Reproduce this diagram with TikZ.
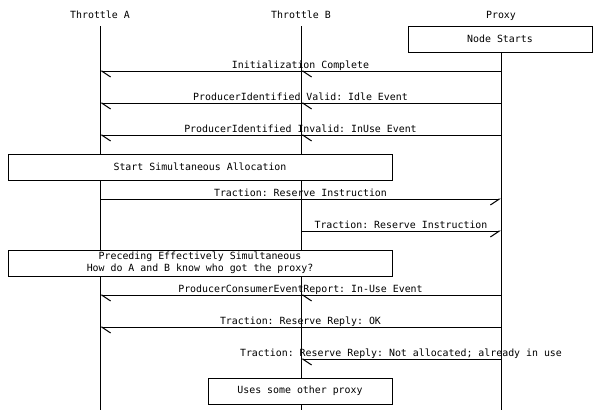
\documentclass[tikz,border=0pt]{standalone}
\usepackage{fontspec}
\setmonofont{DejaVu Sans Mono}
\usetikzlibrary{arrows.meta}
\tikzset{
  txt/.style={font=\ttfamily\fontsize{9.9}{12.5}\selectfont, inner sep=0pt},
  life/.style={line width=1pt},
  notebox/.style={txt, draw, fill=white, line width=1pt, minimum height=26pt, align=center},
  lmsg/.style={line width=1pt, -{Straight Barb[harpoon, length=9pt, width=12pt]}},
  rmsg/.style={line width=1pt, -{Straight Barb[harpoon, swap, length=9pt, width=12pt]}},
  mlbl/.style={txt, midway, anchor=base, yshift=2.5pt}
}
\begin{document}
\begin{tikzpicture}[x=1pt, y=-1pt]
\useasboundingbox (0,0) rectangle (600,410);
% heads
\node[txt, anchor=base] (A) at (100,18) {Throttle A};
\node[txt, anchor=base] (B) at (301,18) {Throttle B};
\node[txt, anchor=base] (P) at (501,18) {Proxy};
% rows
\coordinate (top) at (0,26);
\coordinate (bot) at (0,410);
\coordinate (r1) at (0,71);
\coordinate (r2) at (0,103);
\coordinate (r3) at (0,135);
\coordinate (r4) at (0,199);
\coordinate (r5) at (0,231);
\coordinate (r6) at (0,295);
\coordinate (r7) at (0,327);
\coordinate (r8) at (0,359);
% boxes
\node[notebox, minimum width=184pt] (ns) at (500,39) {Node Starts};
% lifelines
\draw[life] (A|-top) -- (A|-bot);
\draw[life] (B|-top) -- (B|-bot);
\draw[life] (P|-ns.south) -- (P|-bot);
% messages
\draw[lmsg] (P|-r1) -- (A|-r1) node[mlbl] {Initialization Complete};
\draw[lmsg] (P|-r1) -- (B|-r1);
\draw[lmsg] (P|-r2) -- (A|-r2) node[mlbl] {ProducerIdentified Valid: Idle Event};
\draw[lmsg] (P|-r2) -- (B|-r2);
\draw[lmsg] (P|-r3) -- (A|-r3) node[mlbl] {ProducerIdentified Invalid: InUse Event};
\draw[lmsg] (P|-r3) -- (B|-r3);
\draw[rmsg] (A|-r4) -- (P|-r4) node[mlbl] {Traction: Reserve Instruction};
\draw[rmsg] (B|-r5) -- (P|-r5) node[mlbl] {Traction: Reserve Instruction};
\draw[lmsg] (P|-r6) -- (A|-r6) node[mlbl] {ProducerConsumerEventReport: In-Use Event};
\draw[lmsg] (P|-r6) -- (B|-r6);
\draw[lmsg] (P|-r7) -- (A|-r7) node[mlbl] {Traction: Reserve Reply: OK};
\draw[lmsg] (P|-r8) -- (B|-r8) node[mlbl] {Traction: Reserve Reply: Not allocated; already in use};
% boxes over lifelines
\node[notebox, minimum width=384pt] (ssa) at (200,167) {Start Simultaneous Allocation};
\node[notebox, minimum width=384pt] (pes) at (200,263) {Preceding Effectively Simultaneous\\How do A and B know who got the proxy?};
\node[notebox, minimum width=184pt] (usp) at (300,391) {Uses some other proxy};
\end{tikzpicture}
\end{document}
